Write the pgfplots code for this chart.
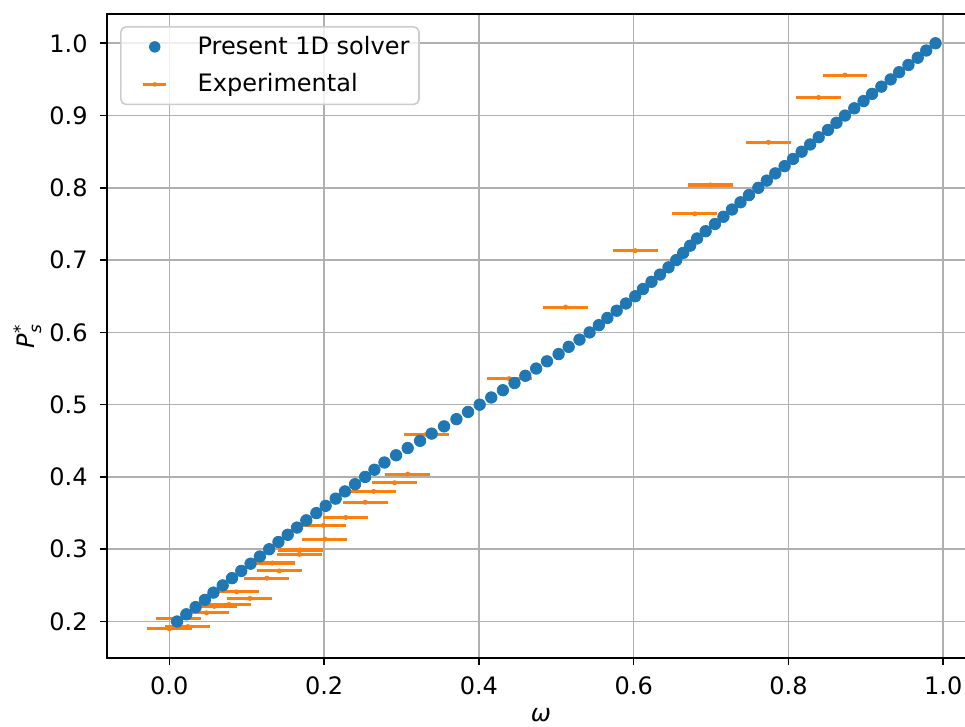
\documentclass[border=0pt]{standalone}
\usepackage{fontspec}
\setmainfont{DejaVu Sans}
\usepackage{amsmath}
\usepackage{pgfplots}
\usepackage{pgfplotstable}
\pgfplotsset{compat=1.18}
\definecolor{mblue}{HTML}{1F77B4}
\definecolor{morange}{HTML}{FF7F0E}
\definecolor{mgrid}{HTML}{B0B0B0}

\pgfplotstableread{
w p
0.010 0.20
0.022 0.21
0.034 0.22
0.046 0.23
0.057 0.24
0.069 0.25
0.081 0.26
0.093 0.27
0.105 0.28
0.117 0.29
0.129 0.30
0.141 0.31
0.153 0.32
0.165 0.33
0.177 0.34
0.190 0.35
0.202 0.36
0.215 0.37
0.227 0.38
0.240 0.39
0.253 0.40
0.265 0.41
0.278 0.42
0.293 0.43
0.308 0.44
0.324 0.45
0.339 0.46
0.355 0.47
0.371 0.48
0.386 0.49
0.401 0.50
0.416 0.51
0.431 0.52
0.446 0.53
0.460 0.54
0.474 0.55
0.488 0.56
0.503 0.57
0.516 0.58
0.530 0.59
0.543 0.60
0.555 0.61
0.566 0.62
0.578 0.63
0.590 0.64
0.602 0.65
0.612 0.66
0.623 0.67
0.634 0.68
0.645 0.69
0.655 0.70
0.664 0.71
0.673 0.72
0.682 0.73
0.693 0.74
0.705 0.75
0.716 0.76
0.727 0.77
0.738 0.78
0.749 0.79
0.761 0.80
0.772 0.81
0.783 0.82
0.795 0.83
0.806 0.84
0.817 0.85
0.828 0.86
0.839 0.87
0.851 0.88
0.862 0.89
0.873 0.90
0.885 0.91
0.897 0.92
0.908 0.93
0.920 0.94
0.932 0.95
0.943 0.96
0.955 0.97
0.967 0.98
0.978 0.99
0.990 1.00
}\solver

\pgfplotstableread{
w p e
0.000 0.190 0.029
0.024 0.193 0.029
0.012 0.2045 0.029
0.048 0.212 0.029
0.058 0.221 0.029
0.077 0.2235 0.029
0.104 0.232 0.029
0.087 0.241 0.029
0.126 0.260 0.029
0.142 0.270 0.029
0.133 0.281 0.029
0.168 0.293 0.029
0.169 0.299 0.029
0.201 0.314 0.029
0.199 0.333 0.029
0.228 0.344 0.029
0.253 0.365 0.029
0.264 0.380 0.029
0.291 0.392 0.029
0.308 0.404 0.029
0.332 0.459 0.029
0.439 0.536 0.029
0.512 0.635 0.029
0.602 0.713 0.029
0.679 0.764 0.029
0.699 0.804 0.029
0.774 0.863 0.029
0.839 0.925 0.029
0.873 0.956 0.029
}\expdata

\begin{document}
\begin{tikzpicture}
\begin{axis}[
  scale only axis, width=416.6bp, height=309.1bp,
  xmin=-0.0805, xmax=1.041, ymin=0.1495, ymax=1.0405,
  xtick={0,0.2,0.4,0.6,0.8,1.0},
  ytick={0.2,0.3,0.4,0.5,0.6,0.7,0.8,0.9,1.0},
  xtick pos=bottom, ytick pos=left,
  tick align=outside, major tick length=3.4bp,
  tick style={line width=0.77bp, black},
  axis line style={line width=0.77bp},
  grid=major, major grid style={mgrid, line width=0.77bp},
  tick label style={font=\fontsize{11.52bp}{13.8bp}\selectfont, inner sep=0pt},
  xticklabel shift=5.5bp, yticklabel shift=5.7bp,
  /pgf/number format/.cd, fixed, fixed zerofill, precision=1, assume math mode=true,
  /pgfplots/.cd,
  xlabel={\textit{ω}},
  ylabel={\textit{P}$^{\text{*}}_{\textit{s}}$},
  label style={font=\fontsize{11.52bp}{13.8bp}\selectfont},
  xlabel style={at={(axis description cs:0.5,0)}, anchor=north, inner sep=0pt, yshift=-24bp},
  ylabel style={at={(axis description cs:-0.0917,0.5)}, anchor=center, rotate=0, inner sep=0pt},
  reverse legend,
  legend style={at={(0,1)}, anchor=north west, xshift=6.24bp, yshift=-5.76bp,
    draw=black!20, line width=0.77bp, rounded corners=2.5bp, fill=white, fill opacity=0.8, text opacity=1,
    font=\fontsize{11.52bp}{13.8bp}\selectfont, inner xsep=2.6bp, inner ysep=2.5bp, row sep=3.7bp,
    cells={anchor=west, inner sep=0pt, text height=8.8bp, text depth=2.7bp}},
]
\addplot[only marks, mark=*, mark size=1bp, color=morange,
  error bars/.cd, x dir=both, x explicit, error mark=none,
  error bar style={line width=1.5bp, morange},
  /pgfplots/.cd,
  legend image code/.code={
    \path[draw=none, fill=none] (0bp,-3bp) rectangle (32.3bp,3bp);
    \draw[morange, line width=1.5bp, sharp corners, draw opacity=1] (8.1bp,0bp) -- (19.3bp,0bp);
    \fill[morange, draw=none, fill opacity=1] (13.7bp,0bp) circle[radius=1.1bp];
  }]
  table[x=w, y=p, x error=e] {\expdata};
\addlegendentry{Experimental}
\addplot[only marks, mark=*, mark size=2.75bp, color=mblue, mark options={draw=mblue, fill=mblue},
  legend image code/.code={
    \path[draw=none, fill=none] (0bp,-3bp) rectangle (32.3bp,3bp);
    \fill[mblue, draw=none, fill opacity=1] (13.7bp,0bp) circle[radius=2.75bp];
  }]
  table[x=w, y=p] {\solver};
\addlegendentry{Present 1D solver}
\end{axis}
\pgfresetboundingbox
\path[use as bounding box] ([xshift=-51.36bp, yshift=-32.64bp]current axis.south west) rectangle ([xshift=-4.8bp, yshift=6.72bp]current axis.north east);
\end{tikzpicture}
\end{document}
